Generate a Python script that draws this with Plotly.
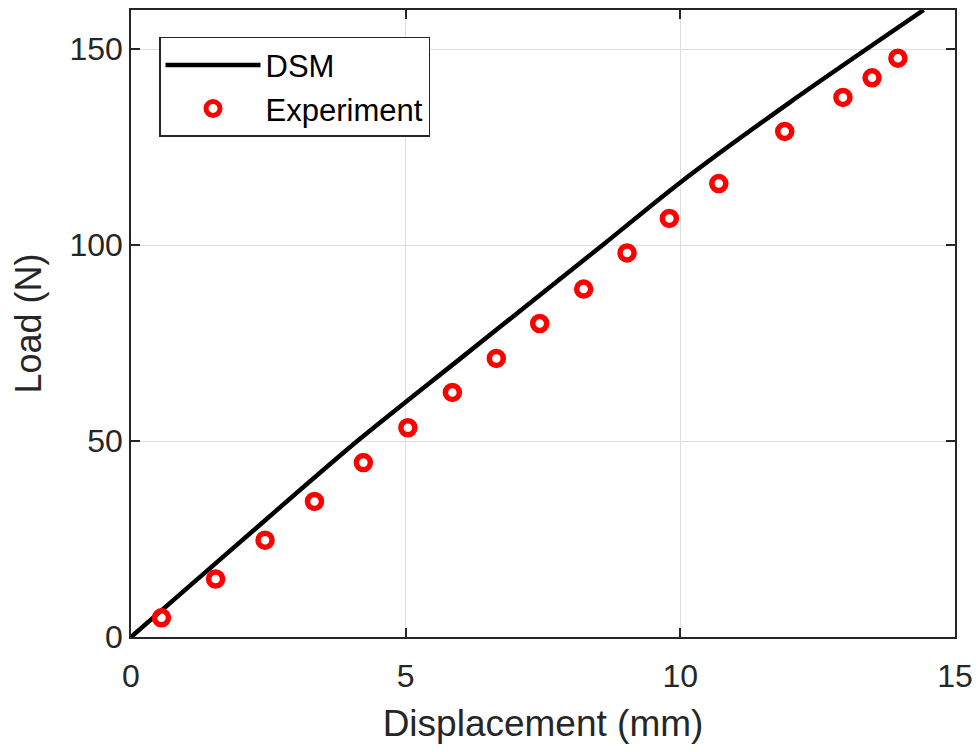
import plotly.graph_objects as go

# DSM prediction
dsm_disp = [0, 2, 4.12, 6, 8.61, 10, 12, 14.43]
dsm_load = [0, 24.4, 50, 71.1, 100.3, 116, 136.5, 160]

# Experimental points
exp_disp = [0.555, 1.54, 2.44, 3.34, 4.23, 5.04, 5.85, 6.65, 7.44, 8.24,
            9.03, 9.80, 10.70, 11.90, 12.96, 13.49, 13.96]
exp_load = [4.9, 14.8, 24.7, 34.6, 44.5, 53.4, 62.4, 71.1, 80.0, 88.8,
            98.0, 106.8, 115.7, 129.0, 137.7, 142.7, 147.7]

x_ticks = [0, 5, 10, 15]
y_ticks = [0, 50, 100, 150]

FONT = "Liberation Sans, Arial, Helvetica, sans-serif"
AX = "#262626"
GRID = "#dedede"

fig = go.Figure()
fig.add_trace(go.Scatter(x=dsm_disp, y=dsm_load, mode="lines", name="DSM",
                         line=dict(color="black", width=4.5, shape="spline", smoothing=0.8)))
fig.add_trace(go.Scatter(x=exp_disp, y=exp_load, mode="markers", name="Experiment",
                         marker=dict(symbol="circle-open", size=14, color="#ff0000",
                                     line=dict(width=5.5, color="#ff0000"))))

axis_common = dict(showline=True, linecolor=AX, linewidth=1.5, mirror="allticks",
                   ticks="inside", ticklen=9, tickwidth=1.5, tickcolor=AX,
                   showgrid=True, gridcolor=GRID, gridwidth=1, zeroline=False,
                   ticklabeloverflow="allow",
                   tickfont=dict(family=FONT, size=32, color=AX))

fig.update_layout(
    width=972, height=744,
    margin=dict(l=122.5, r=25, t=2, b=115),
    paper_bgcolor="white", plot_bgcolor="white",
    showlegend=True,
    legend=dict(x=0.034, y=0.957, xanchor="left", yanchor="top",
                bgcolor="white", bordercolor=AX, borderwidth=1.5,
                font=dict(family=FONT, size=31, color="black"),
                itemwidth=95, tracegroupgap=0),
    xaxis=dict(range=[0, 15], tickvals=x_ticks, ticktext=[str(v) for v in x_ticks],
               ticklabelstandoff=10,
               title=dict(text="Displacement (mm)", standoff=17,
                          font=dict(family=FONT, size=37, color=AX)),
               automargin=False, **axis_common),
    yaxis=dict(range=[0, 160], tickvals=y_ticks, ticktext=[str(v) for v in y_ticks],
               title=dict(text="Load (N)", standoff=17,
                          font=dict(family=FONT, size=36, color=AX)),
               automargin=False, **axis_common),
)

fig.write_html("out.html")
